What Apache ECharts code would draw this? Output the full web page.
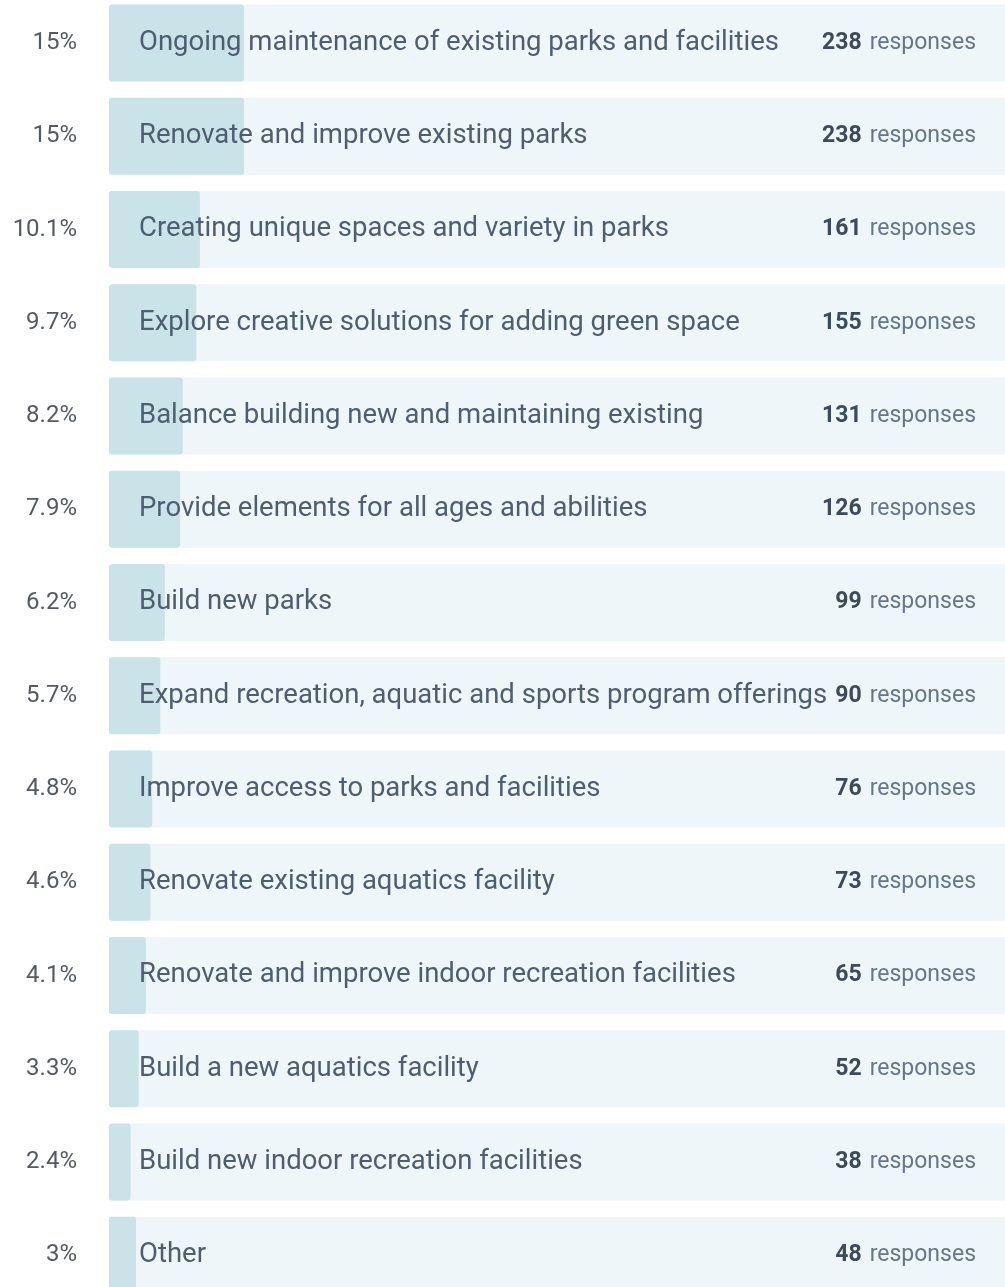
<!DOCTYPE html>
<html>
<head>
<meta charset="utf-8">
<script src="https://cdn.jsdelivr.net/npm/echarts@6/dist/echarts.min.js"></script>
<style>
  html, body { margin: 0; padding: 0; background: #fff; }
  #chart { width: 1005px; height: 1287px; }
</style>
</head>
<body>
<div id="chart"></div>
<script>
// survey answers, top to bottom
const categories = [
  'Ongoing maintenance of existing parks and facilities',
  'Renovate and improve existing parks',
  'Creating unique spaces and variety in parks',
  'Explore creative solutions for adding green space',
  'Balance building new and maintaining existing',
  'Provide elements for all ages and abilities',
  'Build new parks',
  'Expand recreation, aquatic and sports program offerings',
  'Improve access to parks and facilities',
  'Renovate existing aquatics facility',
  'Renovate and improve indoor recreation facilities',
  'Build a new aquatics facility',
  'Build new indoor recreation facilities',
  'Other'
]
const percents = [15, 15, 10.1, 9.7, 8.2, 7.9, 6.2, 5.7, 4.8, 4.6, 4.1, 3.3, 2.4, 3]
const responses = [238, 238, 161, 155, 131, 126, 99, 90, 76, 73, 65, 52, 38, 48]

const font = 'Roboto, "Noto Sans", sans-serif'
const chart = echarts.init(document.getElementById('chart'))

chart.setOption({
  animation: false,
  grid: {
    left: 109, width: 900, top: -3.6, height: 1305.6,
    containLabel: false,
    outerBoundsMode: 'none'
  },
  xAxis: { type: 'value', min: 0, max: 100, show: false },
  yAxis: [
    {
      type: 'category',
      inverse: true,
      data: categories,
      axisLine: { show: false },
      axisTick: { show: false },
      axisLabel: {
        margin: 32,
        color: '#555a60',
        fontSize: 24,
        fontFamily: font,
        formatter: (v, i) => percents[i] + '%'
      }
    },
    {
      type: 'category',
      inverse: true,
      position: 'right',
      data: responses,
      axisLine: { show: false },
      axisTick: { show: false },
      axisLabel: {
        inside: true,
        margin: 33,
        fontFamily: font,
        formatter: v => '{b|' + v + '}{s|}{r|responses}',
        rich: {
          b: { fontSize: 23, fontWeight: 'bold', color: '#3c4a59', fontFamily: font },
          s: { width: 8 },
          r: { fontSize: 23, color: '#66768a', fontFamily: font }
        }
      },
      z: 10
    }
  ],
  series: [
    {
      type: 'bar',
      data: percents,
      barWidth: 77,
      showBackground: true,
      backgroundStyle: { color: '#eef6f9', borderRadius: 3 },
      itemStyle: { color: '#c9e3e8', borderRadius: 3 },
      label: {
        show: true,
        position: 'insideLeft',
        distance: 30,
        color: '#4e5d70',
        fontSize: 27.5,
        fontFamily: font,
        formatter: p => categories[p.dataIndex]
      }
    }
  ]
})
</script>
</body>
</html>
